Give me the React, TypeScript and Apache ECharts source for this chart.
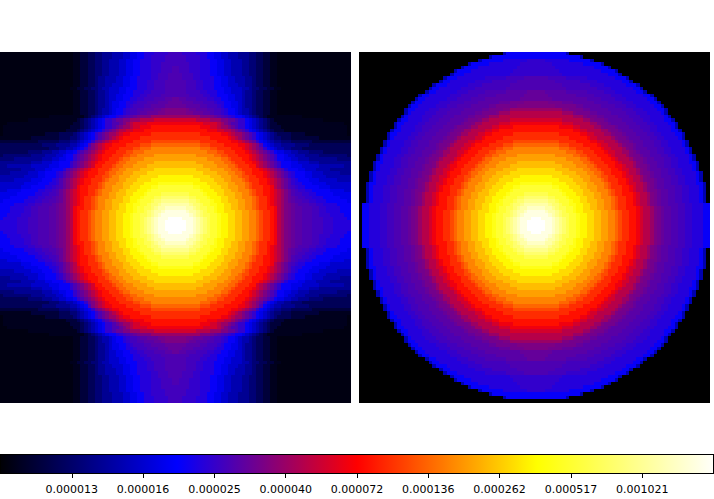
import React, { useEffect, useRef } from "react";
import * as echarts from "echarts";

// Each row is half a panel, read outward from the vertical centre line.
// Row index = distance from the centre row. Characters are colour-bar positions:
// "." darkest navy, 0 = black, z = white; capitals are half steps in the purple range.
const leftRows = [
  "zzzyyxwvutssrqqppoonnmmlkjjihfedDcCCbbbBBBaaaAAAAA",
  "zzzyyxwvutssrqqppoonnmmlkjjihfedDcCCbbbBBBaaaAAAAA",
  "zzyyyxwvutssrqqppoonnmmlkjjihfedDcCCbbbBBBaaaAAAA9",
  "yyyyxwvuttssrqqppoonnmmlkjjihfedDcCCbbbBBaaaAAAA99",
  "yyyxwwvutssrqqpppoonnmmlkjjihfedDcCCbbbBBaaAAAA999",
  "xxxwwvuttssrqqppoonnmmlkjjiihfedDcCCbbbBBaaAAAA999",
  "wwwwvuutssrrqqppoonnmmlkjjihgfedDcCbbbBBaaAAAA9999",
  "vvvvuutsssrqqppooonnmmlkjjihgfedcCbbBBaaAAA9999998",
  "uuuuttsssrqqqppoonnmmmlkjjihgfedcCbBBaaAAA99999888",
  "ttttssssrqqqppooonnmmlkjjiihgfedcbBBaaAA9999988888",
  "sssssssrqqqpppoonnmmmlkjjiihgfedcbBaaAA99999888877",
  "sssssrrqqqpppoonnnmmlkjjjiihfedcbBaAA9999888777777",
  "rrrrrqqqqpppooonnmmmlkjjiihgfedcbaAA99988887777777",
  "qqqqqqqppppooonnmmmlkjjjiihgfedcbaA999888777776666",
  "qqqqqpppppooonnnmmlkkjjiihgfedcbaA9998877776666666",
  "ppppppppoooonnnmmllkjjiiihgfedcbaA9998877766666555",
  "ppppppoooonnnnmmllkjjjiihgfedcbA999887776666555555",
  "oooooooonnnnmmmllkjjjiigfedcba99988877777666666655",
  "oooooonnnnnmmmllkjjjiihgfedcba99988777666555555555",
  "nnnnnnnnnmmmmllkjjjiihgfedcba998877666555555554444",
  "nnnnnnmmmmmllkkjjjiiihgfedcba998776665555444444443",
  "mmmmmmmmmlllkkjjjiiihgfedcba9887766555444433333333",
  "mmmmmmmlllkkjjjjiiihgfedca987665544433333333333333",
  "lllllllkkkjjjjiiiihhgfedb9876655554444333333333333",
  "kkkkkkkjjjjjiiiihhgfedca98765544433333322222222222",
  "jjjjjjjjjjiiiiihgfedcba987654433322222222111111111",
  "jjjjjjjiiiiiihhgfeedcba98765433332222111111111111",
  "iiiiiiiiihhhggffedcba9876543222111111111111111111",
  "iiiiiiihhhggfeedcbaa98765432221111111111111111111",
  "hhhhhhhhggggfedcbbaa9876543221111111111111111111",
  "ggggggffffeeeddccbaa9876543211111111111111",
  "eeeeeeedddDcCbBaA9987654321111111111",
  "dddDDcccCCbBBaA99876654332211",
  "dddDccCCCbbBBaA99876654332211",
  "cccCCCCbbBBBaA998876554332211",
  "ccCCCbbbBBBaAA998876554332211",
  "cCCbbbBBBaaAA9988776554332211",
  "bbbbBBBBaaAA99988776554332211",
  "bbbBBBBaaAAA99887776554332211",
  "bbbBBBaaAAA9998877766544332211",
  "bbbBBBaaAAA998877766554332211",
  "bbbBBBaaAAA9988776665543322 11".replace(" ", ""),
  "bbBBBaaAAAA9988776665543322 11".replace(" ", ""),
  "bbBBBaaAAA998877666554433 2211".replace(" ", ""),
  "bBBBaaaAAA998877666554433 2211".replace(" ", ""),
  "bBBBaaaAAA998877666554433 2211".replace(" ", ""),
  "BBBBaaaAAA998877666554433 2211".replace(" ", ""),
  "BBBaaaaAAA998877666554433 2211".replace(" ", ""),
  "BBBaaaaAA9988776665554433 2211".replace(" ", ""),
  "BBaaaaAAA9988776665554433 2211".replace(" ", ""),
  "BBaaaaAAA9988776665554433 2211".replace(" ", ""),
];

const rightRows = [
  "zzzyyxwvutssrqqppoonnmmlkjjiihgffedDcCCbbBBaaAAA99",
  "zzzyyxwvutssrqqppoonnmmlkjjiihgffedDcCCbbBBaaAAA99",
  "zzyyyxwvutssrqqppoonnmmlkjjiihgffedDcCCbbBBaaAAA99",
  "yyyyxwvuttssrqqppoonnmmlkjjiihgffedDcCCbbBBaaAAA99",
  "yyyxwwvutssrqqpppoonnmmlkjjiihgffedDcCCbbBBaaAAA99",
  "xxxwwvuttssrqqppoonnmmlkjjiiihgffedDcCCbbBBaaAAA99",
  "wwwwvuutssrrqqppoonnmmlkjjiihgffedDcCCbbbBBaaAAA99",
  "vvvvuutsssrqqppooonnmmlkjjiihgffedDcCCbbBBaaAAA960",
  "uuuuttsssrqqqppoonnmmmlkjjiihgffedDcCCbbBBaaAAA960",
  "ttttssssrqqqppooonnmmlkjjiiihgffedDcCCbbBBaaAAA960",
  "sssssssrqqqpppoonnmmmlkjjiihgffedDDcCCbbBBaaAAA960",
  "sssssrrqqqpppoonnnmmlkjjjiihgffedDcCCbbbBBaaAAA960",
  "rrrrrqqqqpppooonnmmmlkjjiihggffedDcCCbbBBaaAAA9960",
  "qqqqqqqppppooonnmmmlkjjjiihgffedDDcCCbbBBaaAAA9600",
  "qqqqqpppppooonnnmmlkkjjiihggffedDcCCbbbBBaaAAA9600",
  "ppppppppoooonnnmmllkjjiiihgffedDDcCCbbBBaaAAAA9600",
  "ppppppoooonnnnmmllkjjjiihggffedDcCCCbbBBaaAAA96000",
  "oooooooonnnnmmmllkjjjiihhgffedDDcCCbbBBaaAAAA96000",
  "oooooonnnnnmmmllkjjjiiihgfffedDcCCCbbBBaaAAA996000",
  "nnnnnnnnnmmmmllkjjjiiihgfffedDDcCCbbbBBaaAAA960000",
  "nnnnnnmmmmmllkkjjjiiihgfffedDDcCCbbbBBaaAAAA960000",
  "mmmmmmmmmlllkkjjjiiihggffeedDcCCCbbBBaaAAAA9600000",
  "mmmmmmmlllkkjjjjiiihggfffedDcCCCbbbBBaaAAAA9600000",
  "lllllllkkkjjjjiiiihggfffedDDcCCbbbBBaaAAAA96000000",
  "kkkkkkkjjjjjiiiihhggfffedDDcCCCbbbBBaaAAAA96000000",
  "jjjjjjjjjjiiiiihggffffedDDcCCCbbbBBaaAAAA96",
  "jjjjjjjiiiiiihhggfffeedDDcCCCbbbBBaaAAAA996",
  "iiiiiiiiiiihhggffffeedDDcCCCbbbBBaaAAAA996",
  "iiiiiiihhhhggffffeedDDDcCCCbbbBBBaaAAAA96",
  "hhhhhhhhgggfffffeedDDcCCCCbbbBBBaaAAAA996",
  "ggggggggffffffeedDDDcCCCCbbbBBBaaAAAA996",
  "fffffffffffeeedDDDccCCCCbbbBBBaaaAAAA96",
  "ffffffffeeedDDDDccCCCCbbbbBBBaaaAAAA96",
  "eeeeeeeeddDDDDccCCCCCbbbbBBBaaaAAAA996",
  "ddddddDDDDDDccCCCCCbbbbBBBaaaAAAAA996",
  "ddddDDDDcccCCCCCCbbbbBBBBaaaAAAAA996",
  "cccccCCCCCCCCCCbbbbBBBBaaaAAAAAA996",
  "ccccCCCCCCCCbbbbbBBBBBaaaAAAAAA996",
  "cccCCCCCCbbbbbbBBBBBaaaAAAAAA996",
  "bbbbbbbbbBBBBBBBBBaaaaAAAAAA996",
  "bbbbbbbbBBBBBBBBaaaaAAAAAA9996",
  "bbbbbbBBBBBBBaaaaaAAAAAAA996",
  "bbbbBBBBBaaaaaaAAAAAAAA9996",
  "aaaaaaaaAAAAAAAAAAAAA9996",
  "aaaaaaaAAAAAAAAAAAA99996",
  "aaaaaaAAAAAAAAAAA99996",
  "aaaaaAAAAAAAAA999996",
  "aaaAAAAAAA9999996",
  "99999999999996",
  "9999999996",
  "",
];

const tickLabels = [
  "0.000013", "0.000016", "0.000025", "0.000040", "0.000072",
  "0.000136", "0.000262", "0.000517", "0.001021",
];

const colorStops = ["#000000", "#0000ff", "#ff0000", "#ffff00", "#ffffff"];
const LEVELS = "0123456789abcdefghijklmnopqrstuvwxyz";
const SPECIAL: Record<string, number> = {
  ".": 0.6, A: 10, a: 10.5, B: 11, b: 11.4, C: 11.8, c: 12.2, D: 12.7,
};

function level(ch: string) {
  return ch in SPECIAL ? SPECIAL[ch] : LEVELS.indexOf(ch);
}

function cells(rows: string[], fill: string, columnOf: (c: number) => number) {
  const out: number[][] = [];
  const indices = Array.from({ length: 100 }, (_, i) => i);
  for (const r of indices) {
    const row = rows[Math.abs(r - 49)].padEnd(51, fill);
    for (const c of indices) {
      out.push([c, r, (level(row[columnOf(c)]) / 35) * 10]);
    }
  }
  return out;
}

export default function App() {
  const ref = useRef<HTMLDivElement>(null);
  useEffect(() => {
    document.body.style.margin = "0";
    const chart = echarts.init(ref.current!, undefined, { renderer: "svg" });
    const cats = Array.from({ length: 100 }, (_, i) => String(i));
    const hiddenCat = (gridIndex: number, inverse: boolean) => ({
      type: "category" as const, data: cats, gridIndex, inverse, show: false,
    });
    const heat = (xAxisIndex: number, data: number[][]) => ({
      type: "heatmap" as const, xAxisIndex, yAxisIndex: xAxisIndex, data,
      silent: true, progressive: 0, itemStyle: { borderWidth: 0 },
      emphasis: { disabled: true },
    });
    chart.setOption({
      animation: false,
      backgroundColor: "#ffffff",
      tooltip: { show: false },
      grid: [
        { left: 0, top: 52, width: 351, height: 351 },
        { left: 359, top: 52, width: 351, height: 351 },
        { left: 0.5, top: 454.5, width: 713, height: 19, show: true, z: 10,
          backgroundColor: "transparent", borderColor: "#000000", borderWidth: 1 },
      ],
      xAxis: [
        hiddenCat(0, false),
        hiddenCat(1, false),
        {
          type: "value", gridIndex: 2, min: 0, max: 10, interval: 1, z: 11,
          axisLine: { show: false }, splitLine: { show: false },
          axisTick: { show: true, length: 4, lineStyle: { color: "#000000", width: 1 } },
          axisLabel: {
            show: true, margin: 10, fontSize: 11, color: "#000000", fontFamily: "DejaVu Sans",
            showMinLabel: false, showMaxLabel: false,
            formatter: (v: number) => tickLabels[v - 1] ?? "",
          },
        },
      ],
      yAxis: [
        hiddenCat(0, true),
        hiddenCat(1, true),
        { type: "value", gridIndex: 2, min: 0, max: 1, show: false },
      ],
      visualMap: {
        type: "continuous", min: 0, max: 10, seriesIndex: [0, 1],
        orient: "horizontal", left: -3, top: 454, padding: 0,
        itemWidth: 20, itemHeight: 720, calculable: false, showLabel: false,
        text: ["", ""], hoverLink: false, z: 2,
        inRange: { color: colorStops },
      },
      series: [
        heat(0, cells(leftRows, ".", (c) => (c < 50 ? 49 - c : c - 50))),
        heat(1, cells(rightRows, "0", (c) => Math.abs(c - 50))),
      ],
    });
    return () => chart.dispose();
  }, []);
  return (
    <>
      <style>{"svg path { shape-rendering: crispEdges; } svg text { shape-rendering: auto; }"}</style>
      <div
        ref={ref}
        style={{ position: "absolute", left: 0, top: 0, width: 714, height: 499, background: "#fff" }}
      />
    </>
  );
}
